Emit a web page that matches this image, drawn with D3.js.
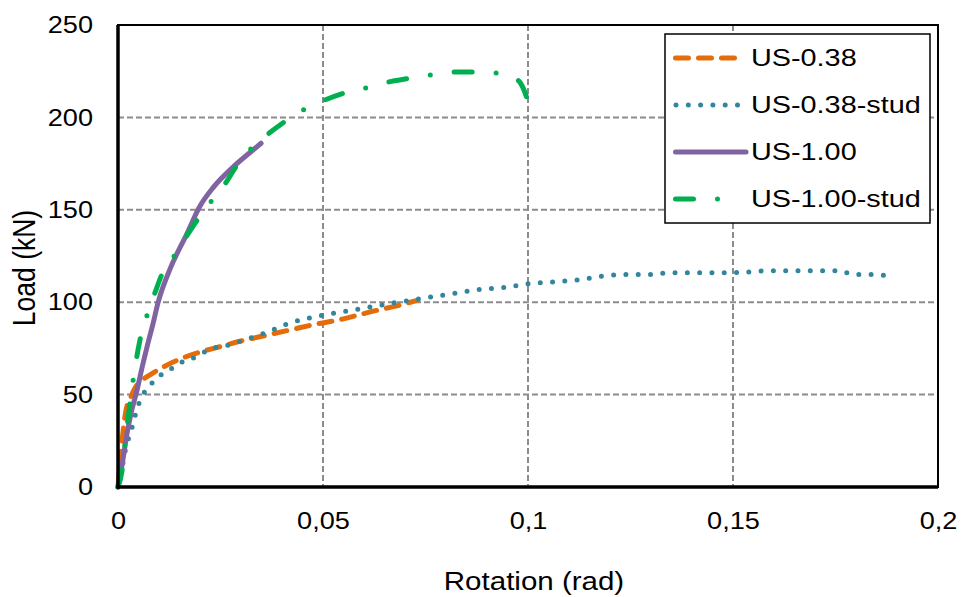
<!DOCTYPE html>
<html lang="en">
<head>
    <meta charset="UTF-8">
    <title>Load vs Rotation</title>
    <style>
        body { margin: 0; background: #fff; }
        svg text { font-family: "Liberation Sans", Arial, sans-serif; fill: #000; }
    </style>
</head>
<body>
    <div id="graphArea"></div>
    <script src="https://d3js.org/d3.v7.min.js"></script>
    <script>
        // tick values and labels
        const xTicks = [0, 0.05, 0.1, 0.15, 0.2];
        const xTickLabels = ["0", "0,05", "0,1", "0,15", "0,2"];
        const yTicks = [0, 50, 100, 150, 200, 250];

        const seriesNames = ["US-0.38", "US-0.38-stud", "US-1.00", "US-1.00-stud"];

        // [rotation (rad), load (kN)]
        const us038 = [[0,0],[0.0003,8],[0.0006,15],[0.001,25],[0.0015,35],[0.002,42],[0.003,48],[0.004,53],
            [0.006,58],[0.008,61],[0.012,66],[0.016,70],[0.020,73],[0.025,76],[0.030,79],[0.036,82],
            [0.042,85],[0.048,88],[0.055,91],[0.062,95],[0.068,98],[0.073,101]];

        const us038stud = [[0,0],[0.0008,8],[0.0017,19],[0.0024,25],[0.0034,32],[0.0041,38],[0.0049,44],
            [0.0061,50],[0.0078,55],[0.010,60],[0.0124,63],[0.0149,67],[0.0176,69],[0.0202,72],[0.0229,75],
            [0.0256,76],[0.0285,78],[0.0315,80],[0.0341,82],[0.0368,84],[0.0398,87],[0.0424,89],[0.05,93],
            [0.058,96],[0.0656,99],[0.0712,101],[0.0768,103],[0.0827,105],[0.0885,107],[0.0944,108],
            [0.1002,110],[0.1061,111],[0.112,112],[0.1178,114],[0.1237,115],[0.1295,115],[0.1354,116],
            [0.15,116],[0.1588,117],[0.1676,117],[0.1734,117],[0.1763,117],[0.179,115],[0.1849,115],[0.1878,114]];

        const us100 = [[0,0],[0.001,12],[0.0022,29],[0.0034,42],[0.0046,52],[0.0058,64],[0.0071,76],
            [0.0085,88],[0.0098,100],[0.0127,118],[0.0168,137],[0.020,152],[0.0232,162],[0.028,173],
            [0.0322,181],[0.0349,186]];

        const us100stud = [[0,0],[0.001,9],[0.0017,23],[0.0029,45],[0.0037,58],[0.0054,80],[0.0071,93],
            [0.009,105],[0.0107,115],[0.0137,125],[0.0168,136],[0.0195,145],[0.0229,155],[0.0261,164],
            [0.029,174],[0.0324,183],[0.0366,191],[0.0402,197],[0.0451,204],[0.05,209],[0.0549,213],
            [0.0605,216],[0.0656,219],[0.0707,221],[0.0763,223],[0.0815,224.5],[0.0868,224.5],[0.0922,224],
            [0.0976,220],[0.0988,216],[0.0998,210]];

        const styles = [
            { color: "#E46C0A", dash: "13,10" },
            { color: "#31859C", dash: "0,12.3" },
            { color: "#8064A2", dash: null },
            { color: "#00B050", dash: "18,24,0,24" }
        ];
        const seriesData = [us038, us038stud, us100, us100stud];

        // stretch text horizontally (the picture's lettering is wide)
        const stretch = (sel, k) => {
            sel.each(function() {
                const w = this.getComputedTextLength();
                d3.select(this).attr("textLength", w * k).attr("lengthAdjust", "spacingAndGlyphs");
            });
        };

        const margin = { top: 25, right: 24, bottom: 110, left: 118 };
        const width = 962 - margin.left - margin.right;
        const height = 597 - margin.top - margin.bottom;

        const svg = d3.select("#graphArea")
            .append("svg")
            .attr("width", 962)
            .attr("height", 597)
            .append("g")
            .attr("transform", `translate(${margin.left}, ${margin.top})`);

        const x = d3.scaleLinear().domain([0, 0.2]).range([0, width]);
        const y = d3.scaleLinear().domain([0, 250]).range([height, 0]);

        // grid
        svg.append("g")
            .selectAll("line")
            .data(yTicks.filter(d => d > 0 && d < 250))
            .join("line")
            .attr("x1", 0).attr("x2", width)
            .attr("y1", d => y(d)).attr("y2", d => y(d))
            .attr("stroke", "#8c8c8c").attr("stroke-width", 2).attr("stroke-dasharray", "6,3");

        svg.append("g")
            .selectAll("line")
            .data(xTicks.filter(d => d > 0 && d < 0.2))
            .join("line")
            .attr("x1", d => x(d)).attr("x2", d => x(d))
            .attr("y1", 0).attr("y2", height)
            .attr("stroke", "#8c8c8c").attr("stroke-width", 2).attr("stroke-dasharray", "6,3");

        // series
        const line = d3.line()
            .x(d => x(d[0]))
            .y(d => y(d[1]))
            .curve(d3.curveMonotoneX);

        seriesData.forEach((data, i) => {
            svg.append("path")
                .datum(data)
                .attr("fill", "none")
                .attr("stroke", styles[i].color)
                .attr("stroke-width", 5)
                .attr("stroke-linecap", "round")
                .attr("stroke-linejoin", "round")
                .attr("stroke-dasharray", styles[i].dash)
                .attr("d", line);
        });

        // frame
        svg.append("rect")
            .attr("width", width).attr("height", height)
            .attr("fill", "none").attr("stroke", "#000").attr("stroke-width", 2);
        svg.append("line")
            .attr("x1", 0).attr("x2", 0).attr("y1", 0).attr("y2", height + 1.5)
            .attr("stroke", "#000").attr("stroke-width", 3.5);
        svg.append("line")
            .attr("x1", -1.5).attr("x2", width).attr("y1", height).attr("y2", height)
            .attr("stroke", "#000").attr("stroke-width", 3.5);

        // axes
        const yAxis = svg.append("g")
            .call(d3.axisLeft(y).tickValues(yTicks).tickSize(0).tickPadding(25));
        yAxis.select(".domain").remove();
        yAxis.selectAll("text").attr("font-size", "24px").attr("font-family", null);
        stretch(yAxis.selectAll("text"), 1.13);

        const xAxis = svg.append("g")
            .attr("transform", `translate(0, ${height})`)
            .call(d3.axisBottom(x).tickValues(xTicks).tickSize(0).tickPadding(25)
                .tickFormat((d, i) => xTickLabels[i]));
        xAxis.select(".domain").remove();
        xAxis.selectAll("text").attr("font-size", "24px").attr("font-family", null);
        stretch(xAxis.selectAll("text"), 1.13);

        // axis titles
        const xTitle = svg.append("text")
            .attr("x", 416)
            .attr("y", 565)
            .attr("font-size", "25px")
            .style("text-anchor", "middle")
            .text("Rotation (rad)");
        stretch(xTitle, 1.18);

        svg.append("text")
            .attr("transform", `translate(${-83}, ${243}) rotate(-90) scale(1, 1.15)`)
            .attr("font-size", "26.5px")
            .style("text-anchor", "middle")
            .text("Load (kN)");

        // legend
        const legend = svg.append("g").attr("transform", `translate(${665 - margin.left}, ${34 - margin.top})`);
        legend.append("rect")
            .attr("width", 265).attr("height", 189)
            .attr("fill", "#fff").attr("stroke", "#000").attr("stroke-width", 1.5);

        const rowY = [24, 71, 118, 165];
        const lineEnds = [[10.5, 71], [11, 73], [10.5, 81], [10.5, 76]];

        seriesNames.forEach((name, i) => {
            legend.append("line")
                .attr("x1", lineEnds[i][0]).attr("x2", lineEnds[i][1])
                .attr("y1", rowY[i]).attr("y2", rowY[i])
                .attr("stroke", styles[i].color)
                .attr("stroke-width", 5)
                .attr("stroke-linecap", "round")
                .attr("stroke-dasharray", styles[i].dash);

            const t = legend.append("text")
                .attr("x", 86)
                .attr("y", rowY[i])
                .attr("dy", "0.35em")
                .attr("font-size", "24px")
                .text(name);
            stretch(t, 1.2);
        });
    </script>
</body>
</html>
